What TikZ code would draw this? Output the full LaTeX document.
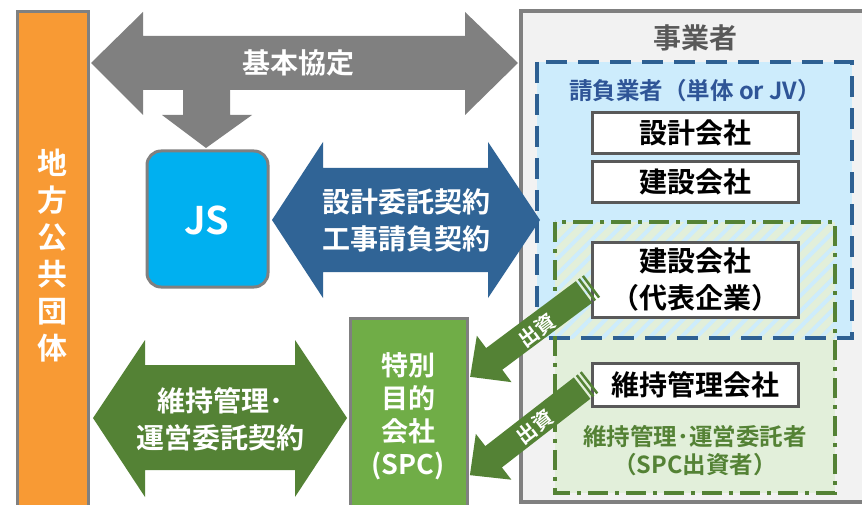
\documentclass[tikz,border=0pt]{standalone}
\usepackage{fontspec}
\setmainfont{Noto Sans CJK JP}[BoldFont={Noto Sans CJK JP Bold}]
\usetikzlibrary{patterns.meta}
\definecolor{linegray}{RGB}{128,128,128}
\definecolor{boxgray}{RGB}{89,89,89}
\definecolor{bggray}{RGB}{242,242,242}
\definecolor{orangebar}{RGB}{248,154,52}
\definecolor{jsblue}{RGB}{0,176,240}
\definecolor{contractblue}{RGB}{48,100,150}
\definecolor{darkgreen}{RGB}{84,130,53}
\definecolor{spcgreen}{RGB}{112,173,71}
\definecolor{paleblue}{RGB}{205,236,252}
\definecolor{palegreen}{RGB}{226,239,218}
\definecolor{dashblue}{RGB}{46,96,146}
\definecolor{labelblue}{RGB}{47,85,151}

\begin{document}
\begin{tikzpicture}[x=1pt,y=-1pt,
  whitetxt/.style={text=white,align=center,inner sep=0pt,font=\bfseries\fontsize{28}{37}\selectfont},
  company/.style={draw=boxgray,line width=3pt,fill=white,minimum width=206pt,inner sep=0pt,align=center,font=\bfseries\fontsize{28}{37}\selectfont},
  grouplabel/.style={align=center,inner sep=0pt,font=\bfseries\fontsize{23.5}{28}\selectfont},
  money/.style={text=white,inner sep=0pt,font=\bfseries\fontsize{20}{20}\selectfont}]
 \useasboundingbox (0,0) rectangle (862,505);
 \fill[white] (0,0) rectangle (862,505);
 \draw[line width=3pt,draw=linegray,fill=orangebar] (17,12) rectangle (88,520);
 \draw[line width=4pt,draw=linegray,fill=bggray] (521,11) rectangle (880,502);
 \fill[paleblue] (537,62) rectangle (852,338);
 \fill[palegreen] (555,222) rectangle (835,493);
 \fill[pattern={Lines[angle=45,distance=11pt,line width=4pt]},pattern color=paleblue] (555,222) rectangle (835,338);
 \draw[dashblue,line width=4pt,dash pattern=on 21pt off 11pt] (537,62) rectangle (852,338);
 \draw[darkgreen,line width=4pt,dash pattern=on 20pt off 7pt on 4pt off 7pt] (555,222) rectangle (835,493);
 \node[company,minimum height=41pt] (design) at (695,133) {設計会社};
 \node[company,minimum height=41pt] (builder) at (695,182) {建設会社};
 \node[company,minimum height=75pt] (leader) at (695,280) {建設会社\\（代表企業）};
 \node[company,minimum height=43pt] (keeper) at (695,385) {維持管理会社};
 \node[inner sep=0pt,text=boxgray,font=\bfseries\fontsize{28}{34}\selectfont] (operator) at (695,38) {事業者};
 \node[grouplabel,text=labelblue] (contractor) at (695,91) {請負業者（単体 or JV）};
 \node[grouplabel,text=darkgreen] (investor) at (695,451) {維持管理･運営委託者\\（SPC出資者）};
 \node[whitetxt,font=\bfseries\fontsize{30}{37}\selectfont] (city) at (52,256) {地\\方\\公\\共\\団\\体};
 \fill[linegray] (91,63) -- (143,12) -- (143,36) -- (465,36) -- (465,12) -- (518,63) -- (465,115) -- (465,90) -- (230,90) -- (230,115) -- (252,115) -- (206,148) -- (162,115) -- (183,115) -- (183,90) -- (143,90) -- (143,115) -- cycle;
 \node[whitetxt] (basic) at (298,63) {基本協定};
 \draw[line width=3pt,draw=linegray,fill=jsblue,rounded corners=14pt] (147,151) rectangle (268,287);
 \node[text=white,inner sep=0pt,font=\bfseries\fontsize{38}{40}\selectfont] (js) at (207,220) {JS};
 \fill[contractblue] (272,220) -- (323,142) -- (323,168) -- (488,168) -- (488,142) -- (540,220) -- (488,298) -- (488,272) -- (323,272) -- (323,298) -- cycle;
 \node[whitetxt] (design contract) at (406,220) {設計委託契約\\工事請負契約};
 \fill[darkgreen] (93,418) -- (145,340) -- (145,365) -- (295,365) -- (295,340) -- (347,418) -- (295,497) -- (295,470) -- (145,470) -- (145,497) -- cycle;
 \node[whitetxt] (om contract) at (220,419) {維持管理･\\運営委託契約};
 \draw[line width=3pt,draw=linegray,fill=spcgreen] (350,318) rectangle (467,520);
 \node[whitetxt,font=\bfseries\fontsize{27}{33}\selectfont] (spc) at (408,416) {特別\\目的\\会社\\(SPC)};
 \begin{scope}[shift={(592,286)},rotate=216.7]
  \fill[darkgreen] (0,-13.5) rectangle (2.5,13.5);
  \fill[darkgreen] (5,-13.5) rectangle (7.5,13.5);
  \fill[darkgreen] (10,-13.5) -- (122,-13.5) -- (122,-29) -- (152,0) -- (122,29) -- (122,13.5) -- (10,13.5) -- cycle;
 \end{scope}
 \node[money,rotate=36.7] (fund1) at (537,330) {出資};
 \begin{scope}[shift={(590,382)},rotate=217.8]
  \fill[darkgreen] (0,-13.5) rectangle (2.5,13.5);
  \fill[darkgreen] (5,-13.5) rectangle (7.5,13.5);
  \fill[darkgreen] (10,-13.5) -- (122,-13.5) -- (122,-29) -- (152,0) -- (122,29) -- (122,13.5) -- (10,13.5) -- cycle;
 \end{scope}
 \node[money,rotate=37.8] (fund2) at (535,427) {出資};
\end{tikzpicture}
\end{document}
